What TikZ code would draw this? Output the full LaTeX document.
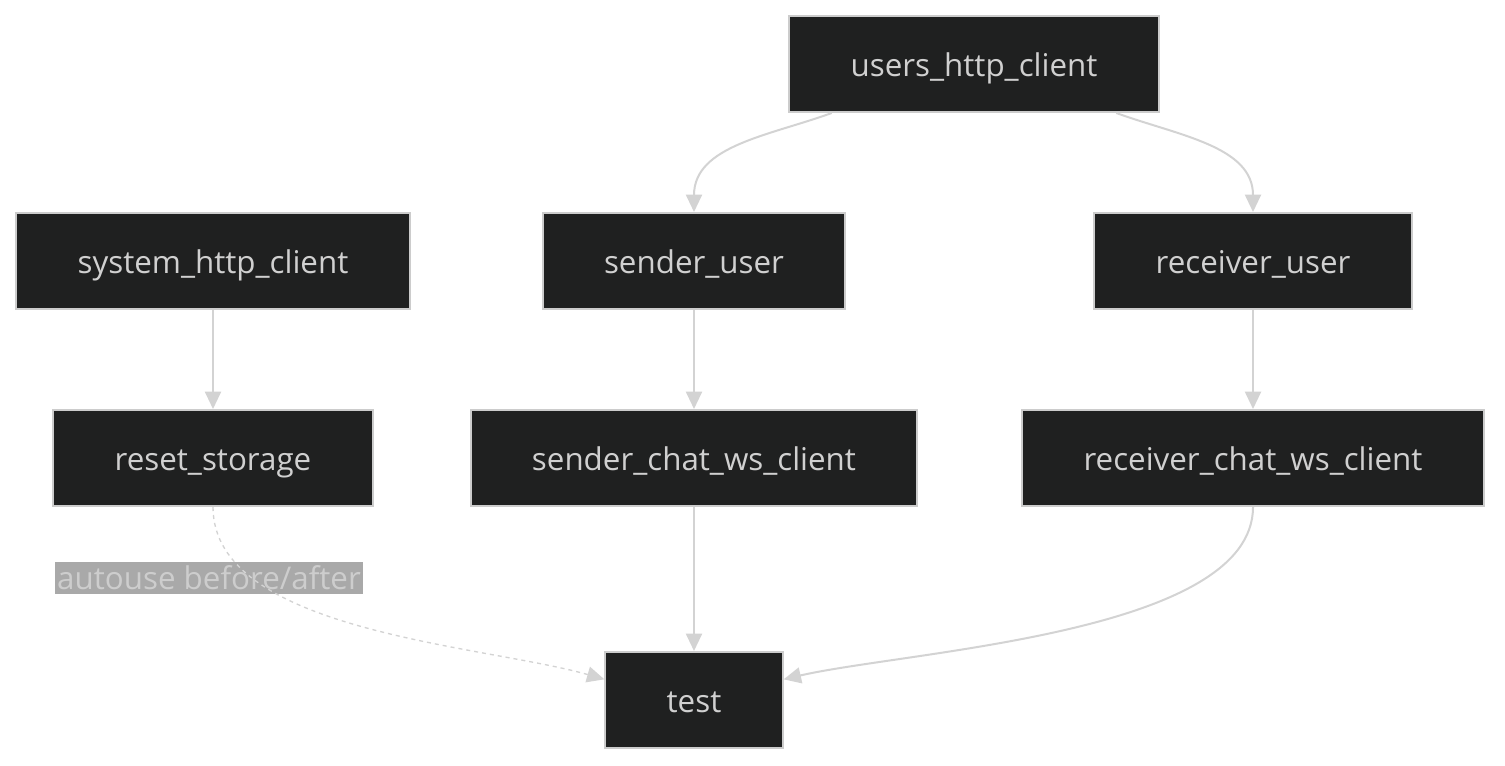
\documentclass[tikz,border=0pt]{standalone}
\usepackage{fontspec}
\setmainfont{Open Sans}
\usetikzlibrary{arrows.meta}
\definecolor{boxfill}{HTML}{1F2020}
\definecolor{boxline}{HTML}{CCCCCC}
\definecolor{boxtext}{HTML}{D0D0D0}
\definecolor{edgecol}{HTML}{D3D3D3}
\definecolor{lblfill}{HTML}{A9A9A9}
\definecolor{lbltext}{HTML}{CDCDCD}
\begin{document}
\begin{tikzpicture}[x=0.75pt,y=-0.75pt,
        every node/.style={font=\fontsize{23.5}{28}\selectfont},
        box/.style={draw=boxline, line width=1.5pt, fill=boxfill, text=boxtext,
          minimum height=72pt, inner xsep=46pt, text height=24pt, text depth=6pt},
        arr/.style={color=edgecol, line width=1.5pt, -{Triangle[length=13pt,width=12pt]}},
        lbl/.style={fill=lblfill, text=lbltext, inner xsep=2pt, inner ysep=3pt}]

        \useasboundingbox (0,0) rectangle (1505,765);

        \node[box] (users)  at (974,64)  {users\_http\_client};

        \node[box] (system)   at (213,261)  {system\_http\_client};
        \node[box] (sender)   at (694,261)  {sender\_user};
        \node[box] (receiver) at (1253,261) {receiver\_user};

        \node[box] (reset)      at (213,458)  {reset\_storage};
        \node[box] (senderws)   at (694,458)  {sender\_chat\_ws\_client};
        \node[box] (receiverws) at (1253,458) {receiver\_chat\_ws\_client};

        \node[box] (test) at (694,700) {test};

        \node[lbl] (autouse) at (209,578) {autouse before/after};

        % fan out from the shared client
        \draw[arr] (users.199) to[out=200, in=90] (sender.north);
        \draw[arr] (users.-19) to[out=-20, in=90] (receiver.north);

        \draw[arr] (system) -- (reset);
        \draw[arr] (sender) -- (senderws);
        \draw[arr] (receiver) -- (receiverws);

        % into the test
        \draw[arr] (senderws) -- (test);
        \draw[arr] (receiverws.south) to[out=-90, in=13, looseness=0.65] (test.13);
        \draw[arr, line width=1pt, dash pattern=on 3pt off 3pt]
          (reset.south) to[out=-90, in=164, looseness=0.75] (test.167);

      \end{tikzpicture}
\end{document}
